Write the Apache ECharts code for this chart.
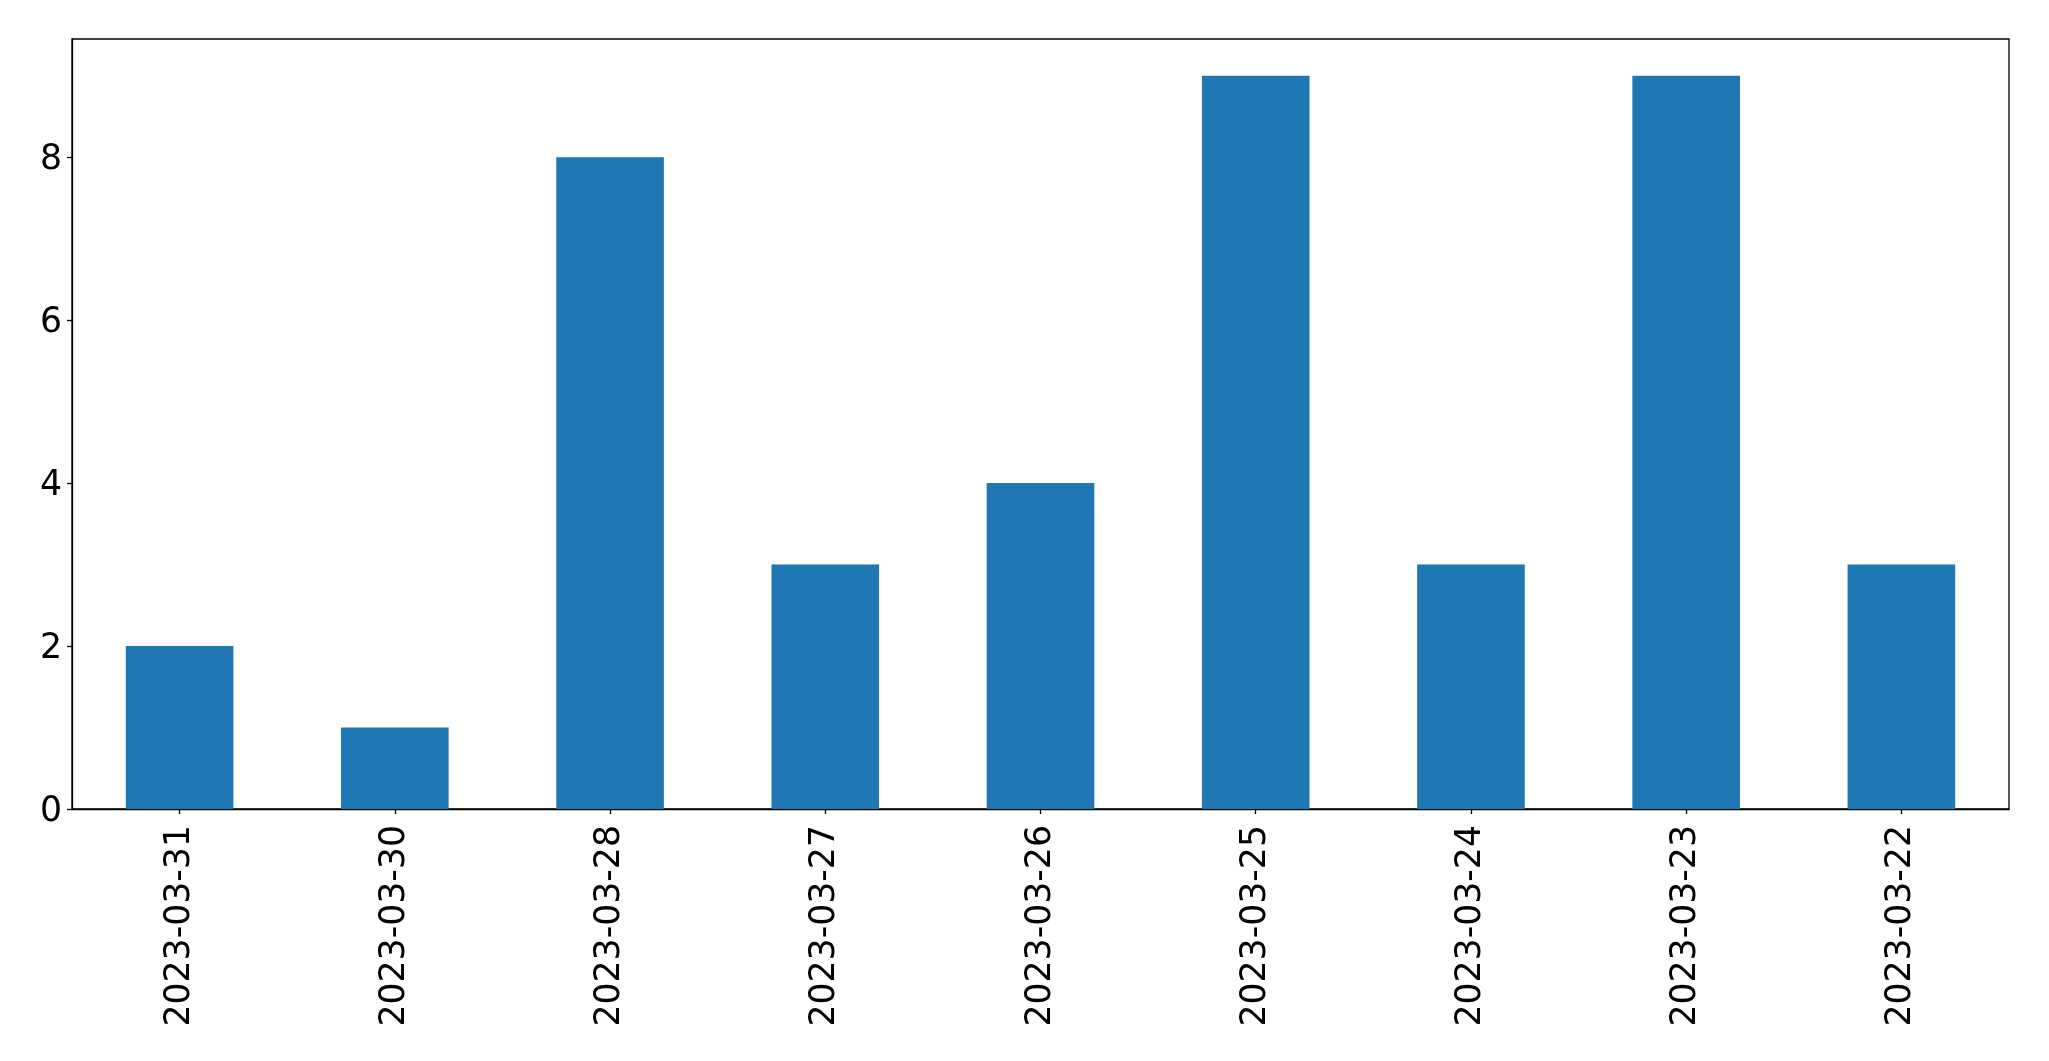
<!DOCTYPE html>
<html>
<head>
<meta charset="utf-8">
<script src="https://cdn.jsdelivr.net/npm/echarts@6/dist/echarts.min.js"></script>
<style>
html,body{margin:0;padding:0;background:#fff;}
#chart{width:2049px;height:1061px;}
</style>
</head>
<body>
<div id="chart"></div>
<script>
const categories = ['2023-03-31','2023-03-30','2023-03-28','2023-03-27','2023-03-26','2023-03-25','2023-03-24','2023-03-23','2023-03-22'];
const values = [2, 1, 8, 3, 4, 9, 3, 9, 3];
const yTicks = [0, 2, 4, 6, 8];

const chart = echarts.init(document.getElementById('chart'), null, {renderer: 'canvas'});
const font = 'DejaVu Sans';
chart.setOption({
  animation: false,
  backgroundColor: '#ffffff',
  grid: {
    left: 72, top: 39, width: 1937, height: 770,
    show: true, borderColor: '#000', borderWidth: 1.3, backgroundColor: 'transparent',
    containLabel: false
  },
  xAxis: {
    type: 'category',
    data: categories,
    axisLine: {show: true, lineStyle: {color: '#000', width: 1.3}},
    axisTick: {show: true, alignWithLabel: true, length: 5, lineStyle: {color: '#000', width: 1.3}},
    axisLabel: {rotate: 90, fontFamily: font, fontSize: 34.7, color: '#000', margin: 16, interval: 0},
    splitLine: {show: false}
  },
  yAxis: {
    type: 'value',
    min: 0, max: 9.45, interval: 2,
    axisLine: {show: true, lineStyle: {color: '#000', width: 1.3}},
    axisTick: {show: true, length: 5, customValues: yTicks, lineStyle: {color: '#000', width: 1.3}},
    axisLabel: {
      fontFamily: font, fontSize: 34.7, color: '#000', margin: 10, customValues: yTicks,
      formatter: function (v) { return '{a|' + v + '}'; },
      rich: {a: {fontFamily: font, fontSize: 34.7, color: '#000', padding: [6, 0, 0, 0]}}
    },
    splitLine: {show: false}
  },
  series: [{
    type: 'bar',
    data: values,
    barWidth: '50%',
    itemStyle: {color: '#1f77b4'}
  }]
});
</script>
</body>
</html>
